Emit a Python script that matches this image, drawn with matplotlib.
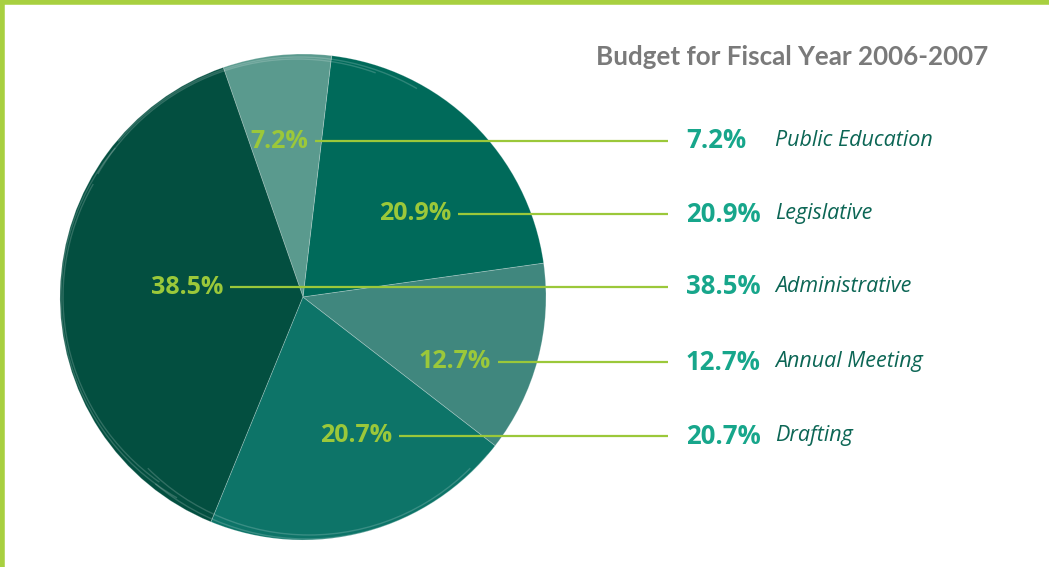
import matplotlib
matplotlib.use("Agg")
import matplotlib.pyplot as plt
from matplotlib.patches import Arc

# ---- data ----
categories = ["Legislative", "Public Education", "Administrative", "Drafting", "Annual Meeting"]
values = [20.9, 7.2, 38.5, 20.7, 12.7]
slice_colors = ["#006a5a", "#5a9a8e", "#034f40", "#0d7468", "#40877e"]

legend_order = ["Public Education", "Legislative", "Administrative", "Annual Meeting", "Drafting"]
title = "Budget for Fiscal Year 2006-2007"

# ---- layout (pixel coordinates, y from top) ----
W, H = 1049, 567
cx, cy, R = 303, 297, 243
inner_label_x = {"Public Education": 308, "Legislative": 451, "Administrative": 223,
                 "Annual Meeting": 491, "Drafting": 392}
label_y = {"Public Education": 141, "Legislative": 214, "Administrative": 287,
           "Annual Meeting": 362, "Drafting": 436}
line_end = 668
pct_x = 686
name_x = 775

LIME = "#9bc83a"
PCT = "#17a68b"
NAME = "#0c6655"

fig = plt.figure(figsize=(W / 100, H / 100), dpi=100)
ax = fig.add_axes([0, 0, 1, 1])

def Y(y):
    return H - y

wedges, _ = ax.pie(values, colors=slice_colors, startangle=8, counterclock=True,
                   center=(cx, Y(cy)), radius=R, frame=True,
                   wedgeprops=dict(linewidth=0.6, edgecolor=(1, 1, 1, 0.25)))
ax.set_xlim(0, W)
ax.set_ylim(0, H)
ax.set_aspect("equal")
ax.axis("off")

# faint concentric arcs giving a layered look
for dx, dy, r, t1, t2 in [(-4, 4, 236, 60, 140), (-6, 8, 230, 70, 150),
                          (4, -6, 236, 230, 320), (6, -10, 228, 225, 315),
                          (-10, 0, 232, 140, 240), (-14, 0, 226, 150, 235)]:
    ax.add_patch(Arc((cx + dx, Y(cy) + dy), 2 * r, 2 * r, theta1=t1, theta2=t2,
                     color="white", alpha=0.18, lw=1.0))

val_by_name = dict(zip(categories, values))
for name in legend_order:
    v = val_by_name[name]
    y = Y(label_y[name])
    ax.text(inner_label_x[name], y, f"{v}%", color=LIME, fontsize=18, fontweight="bold",
            family="Open Sans", ha="right", va="center")
    ax.plot([inner_label_x[name] + 7, line_end], [y, y], color=LIME, lw=1.6,
            solid_capstyle="butt")
    ax.text(pct_x, y, f"{v}%", color=PCT, fontsize=18.5, fontweight="bold",
            family="Open Sans", ha="left", va="center")
    ax.text(name_x, y, name, color=NAME, fontsize=15.5, style="italic",
            family="Open Sans", ha="left", va="center")

ax.text(988, Y(57), title, color="#7a7a7a", fontsize=18.7, fontweight="bold",
        family="Lato", ha="right", va="center")

# lime frame on top and left
ax.plot([2, 2], [0, H], color="#a8d040", lw=4, solid_capstyle="butt")
ax.plot([0, W], [H - 2, H - 2], color="#a8d040", lw=4, solid_capstyle="butt")

fig.savefig("out.png", dpi=100)
